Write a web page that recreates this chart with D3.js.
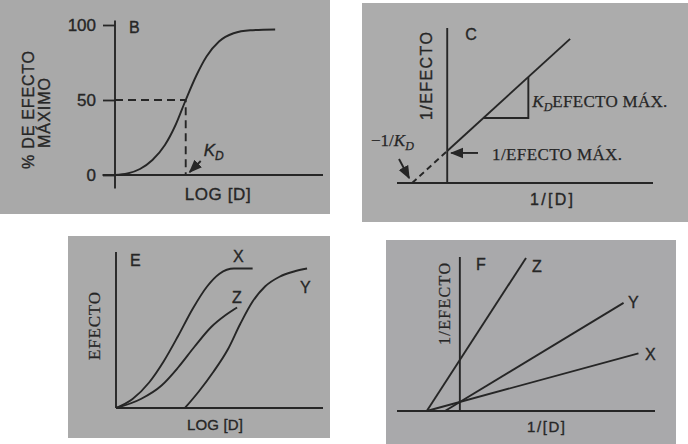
<!DOCTYPE html>
<html>
<head>
<meta charset="utf-8">
<script src="https://cdn.jsdelivr.net/npm/d3@7"></script>
<style>
  body { margin: 0; background: #fff; }
  svg { display: block; }
  .ink { stroke: #262626; stroke-width: 1.9; fill: none; }
  .sans { font-family: "Liberation Sans", Arial, sans-serif; fill: #262626; stroke: #262626; stroke-width: 0.35; }
  .serif { font-family: "Liberation Serif", "Times New Roman", serif; fill: #262626; stroke: #262626; stroke-width: 0.25; }
</style>
</head>
<body>
<svg id="chart" width="688" height="444"></svg>
<script>
// B: % of max effect vs log[D]
const bLogD = [0, 0.6, 1.2, 1.8, 2.4, 2.9, 3.4, 3.9, 4.4, 5.0, 5.7, 6.5, 7.7];
const bPct = [0, 1, 4, 10, 20, 33, 50, 66, 79, 89, 94.5, 96.5, 97];
const bTicks = [0, 50, 100];
const bKd = 3.4;

// C: double reciprocal line
const cInvD = [-1, 0, 3.5];
const cInvE = [0, 1, 4.5];
const cTriX = [1.03, 2.31];
const cTriY = [2.03, 3.31];

// E: three agonists
const eLogX = [0, 0.8, 1.6, 2.3, 3.0, 3.7, 4.4, 5.0, 5.7, 6.6];
const eEffX = [0, 6, 17, 31, 48, 66, 81, 89.5, 93, 93];
const eLogZ = [0, 1.2, 2.2, 3.0, 3.8, 4.6, 5.3, 5.85];
const eEffZ = [0, 6, 15, 27, 41, 54, 62, 67];
const eLogY = [3.33, 4.0, 4.7, 5.4, 6.0, 6.6, 7.2, 7.9, 8.6, 9.23];
const eEffY = [0, 11, 24, 39, 56, 71, 81, 87.5, 91, 93];

// F: reciprocal lines
const fInvDX = [-1, 5.4], fInvEX = [0, 1.92];
const fInvDY = [-0.45, 4.95], fInvEY = [0, 3.6];
const fInvDZ = [-1, 2], fInvEZ = [0, 5.1];

const svg = d3.select("#chart");

// scanned panels
const panels = [
  {x: 0, y: 0, w: 330, h: 214, c: "#a9a9a9"},
  {x: 362, y: 3, w: 326, h: 219, c: "#acacac"},
  {x: 68, y: 236, w: 262, h: 202, c: "#aaaaaa"},
  {x: 386, y: 240, w: 290, h: 204, c: "#a9a9ab"}
];
svg.selectAll("rect.panel").data(panels).enter().append("rect")
  .attr("class", "panel")
  .attr("x", d => d.x).attr("y", d => d.y)
  .attr("width", d => d.w).attr("height", d => d.h)
  .attr("fill", d => d.c);

svg.append("defs").append("marker")
  .attr("id", "arr").attr("viewBox", "0 0 10 10")
  .attr("refX", 9).attr("refY", 5)
  .attr("markerWidth", 7).attr("markerHeight", 7)
  .attr("orient", "auto")
  .append("path").attr("d", "M0,1 L10,5 L0,9 Z").attr("fill", "#262626");

const zip = (a, b) => a.map((v, i) => [v, b[i]]);

// ---------- B ----------
{
  const x = d3.scaleLinear().domain([0, 10]).range([115, 323]);
  const y = d3.scaleLinear().domain([0, 100]).range([175, 25]);
  const g = svg.append("g");

  g.append("line").attr("class", "ink")
    .attr("x1", x(-0.6)).attr("x2", x(10)).attr("y1", y(0)).attr("y2", y(0));
  g.append("line").attr("class", "ink")
    .attr("x1", x(0)).attr("x2", x(0)).attr("y1", y(103)).attr("y2", y(-9));

  const ax = g.append("g").attr("transform", `translate(${x(0)},0)`)
    .call(d3.axisLeft(y).tickValues(bTicks).tickSize(12).tickPadding(7));
  ax.select(".domain").remove();
  ax.selectAll("line").attr("stroke", "#262626").attr("stroke-width", 1.8);
  ax.selectAll("text").attr("class", "sans").attr("font-size", 17).attr("fill", "#262626");

  // dashed guides to K_D
  g.append("path").attr("class", "ink").attr("stroke-dasharray", "8,5")
    .attr("d", `M${x(0)},${y(50)}H${x(bKd)}V${y(0)}`);

  g.append("path").attr("class", "ink")
    .attr("d", d3.line().x(d => x(d[0])).y(d => y(d[1])).curve(d3.curveMonotoneX)(zip(bLogD, bPct)));

  g.append("text").attr("class", "sans").attr("font-size", 16)
    .attr("x", x(0) + 14).attr("y", y(100) + 8).text("B");
  g.append("text").attr("class", "sans").attr("font-size", 17)
    .attr("x", x(bKd) - 1).attr("y", 200).attr("textLength", 66).text("LOG [D]");

  const kd = g.append("text").attr("class", "sans").attr("font-size", 17)
    .attr("font-style", "italic").attr("x", x(bKd) + 18).attr("y", 156);
  kd.append("tspan").text("K");
  kd.append("tspan").attr("font-size", 12).attr("dy", 4).text("D");
  g.append("line").attr("class", "ink").attr("stroke-width", 1.4)
    .attr("marker-end", "url(#arr)")
    .attr("x1", x(bKd) + 15).attr("y1", 161).attr("x2", x(bKd) + 4).attr("y2", y(0) - 3);

  g.append("text").attr("class", "sans").attr("font-size", 16)
    .attr("transform", "translate(34,110) rotate(-90)")
    .attr("text-anchor", "middle").attr("textLength", 118).text("% DE EFECTO");
  g.append("text").attr("class", "sans").attr("font-size", 16)
    .attr("transform", "translate(50,113) rotate(-90)")
    .attr("text-anchor", "middle").attr("textLength", 70).text("MÁXIMO");
}

// ---------- C ----------
{
  const x = d3.scaleLinear().domain([-1.43, 5.86]).range([397, 653]);
  const y = d3.scaleLinear().domain([0, 4.84]).range([183, 28]);
  const g = svg.append("g");

  g.append("line").attr("class", "ink")
    .attr("x1", x(-1.43)).attr("x2", x(5.86)).attr("y1", y(0)).attr("y2", y(0));
  g.append("line").attr("class", "ink")
    .attr("x1", x(0)).attr("x2", x(0)).attr("y1", y(4.84)).attr("y2", y(0));

  const line = d3.line().x(d => x(d[0])).y(d => y(d[1]));
  const pts = zip(cInvD, cInvE);
  g.append("path").attr("class", "ink").attr("stroke-dasharray", "6,4").attr("d", line(pts.slice(0, 2)));
  g.append("path").attr("class", "ink").attr("d", line(pts.slice(1)));
  g.append("path").attr("class", "ink").attr("stroke-width", 1.5)
    .attr("d", `M${x(cTriX[0])},${y(cTriY[0])}H${x(cTriX[1])}V${y(cTriY[1])}`);

  g.append("text").attr("class", "sans").attr("font-size", 16)
    .attr("x", x(0) + 18).attr("y", 40).text("C");
  g.append("text").attr("class", "sans").attr("font-size", 16)
    .attr("x", 530).attr("y", 205).attr("textLength", 43).text("1/[D]");

  const t1 = g.append("text").attr("class", "serif").attr("font-size", 17)
    .attr("x", x(cTriX[1]) + 4).attr("y", 107);
  t1.append("tspan").attr("font-style", "italic").text("K");
  t1.append("tspan").attr("font-size", 12).attr("dy", 4).attr("font-style", "italic").text("D");
  t1.append("tspan").attr("dy", -4).attr("textLength", 115).text("EFECTO MÁX.");

  g.append("text").attr("class", "serif").attr("font-size", 17)
    .attr("x", 492).attr("y", 160).attr("textLength", 130).text("1/EFECTO MÁX.");
  g.append("line").attr("class", "ink").attr("stroke-width", 1.4).attr("marker-end", "url(#arr)")
    .attr("x1", 478).attr("y1", y(1) + 2).attr("x2", x(0) + 4).attr("y2", y(1) + 2);

  const t2 = g.append("text").attr("class", "serif").attr("font-size", 17)
    .attr("x", 371).attr("y", 146);
  t2.append("tspan").text("−1/");
  t2.append("tspan").attr("font-style", "italic").text("K");
  t2.append("tspan").attr("font-size", 12).attr("dy", 4).attr("font-style", "italic").text("D");
  g.append("line").attr("class", "ink").attr("stroke-width", 1.4).attr("marker-end", "url(#arr)")
    .attr("x1", 399).attr("y1", 159).attr("x2", x(-1) - 3).attr("y2", y(0) - 5);

  g.append("text").attr("class", "sans").attr("font-size", 16)
    .attr("transform", "translate(432,76) rotate(-90)")
    .attr("text-anchor", "middle").attr("textLength", 88).text("1/EFECTO");
}

// ---------- E ----------
{
  const x = d3.scaleLinear().domain([0, 10]).range([116, 323]);
  const y = d3.scaleLinear().domain([0, 100]).range([408, 258]);
  const g = svg.append("g");

  g.append("line").attr("class", "ink")
    .attr("x1", x(0)).attr("x2", x(10)).attr("y1", y(0)).attr("y2", y(0));
  g.append("line").attr("class", "ink")
    .attr("x1", x(0)).attr("x2", x(0)).attr("y1", y(104)).attr("y2", y(0));

  const line = d3.line().x(d => x(d[0])).y(d => y(d[1])).curve(d3.curveMonotoneX);
  [[eLogX, eEffX], [eLogZ, eEffZ], [eLogY, eEffY]].forEach(([a, b]) => {
    g.append("path").attr("class", "ink").attr("d", line(zip(a, b)));
  });

  const lab = [["E", 130, 266], ["X", 233, 262], ["Z", 232, 303], ["Y", 300, 293]];
  lab.forEach(([t, px, py]) => g.append("text").attr("class", "sans").attr("font-size", 16)
    .attr("x", px).attr("y", py).text(t));
  g.append("text").attr("class", "sans").attr("font-size", 15)
    .attr("x", 187).attr("y", 430).attr("textLength", 56).text("LOG [D]");
  g.append("text").attr("class", "serif").attr("font-size", 17)
    .attr("transform", "translate(100,326) rotate(-90)")
    .attr("text-anchor", "middle").attr("textLength", 68).text("EFECTO");
}

// ---------- F ----------
{
  const x = d3.scaleLinear().domain([-1.9, 5.9]).range([397, 655]);
  const y = d3.scaleLinear().domain([0, 5.13]).range([411, 257]);
  const g = svg.append("g");

  g.append("line").attr("class", "ink")
    .attr("x1", x(-1.9)).attr("x2", x(5.9)).attr("y1", y(0)).attr("y2", y(0));
  g.append("line").attr("class", "ink")
    .attr("x1", x(0)).attr("x2", x(0)).attr("y1", y(5.13)).attr("y2", y(-0.03));

  const line = d3.line().x(d => x(d[0])).y(d => y(d[1]));
  [[fInvDX, fInvEX], [fInvDY, fInvEY], [fInvDZ, fInvEZ]].forEach(([a, b]) => {
    g.append("path").attr("class", "ink").attr("d", line(zip(a, b)));
  });

  const lab = [["F", 476, 270], ["Z", 532, 272], ["Y", 628, 308], ["X", 645, 360]];
  lab.forEach(([t, px, py]) => g.append("text").attr("class", "sans").attr("font-size", 16)
    .attr("x", px).attr("y", py).text(t));
  g.append("text").attr("class", "sans").attr("font-size", 15)
    .attr("x", 527).attr("y", 432).attr("textLength", 38).text("1/[D]");
  g.append("text").attr("class", "serif").attr("font-size", 16)
    .attr("transform", "translate(450,304) rotate(-90)")
    .attr("text-anchor", "middle").attr("textLength", 82).text("1/EFECTO");
}
</script>
</body>
</html>
